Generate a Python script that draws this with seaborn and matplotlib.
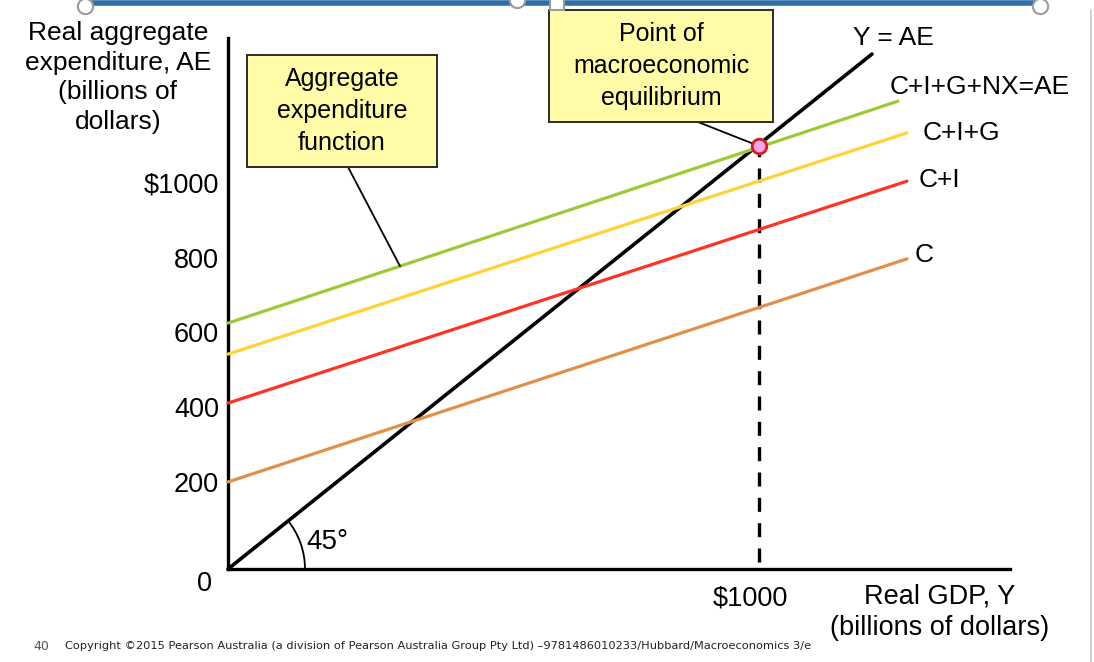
import numpy as np
import pandas as pd
import matplotlib
matplotlib.use("Agg")
import matplotlib.pyplot as plt
import matplotlib.patches as mpatches
import matplotlib.transforms as mtransforms
from matplotlib.lines import Line2D
import seaborn as sns

# ---------------- data (billions of dollars) ----------------
series_names = ["C+I+G+NX=AE", "C+I+G", "C+I", "C"]
series_colors = ["#9BCB34", "#FFD236", "#FF3224", "#E0904A"]
intercept_ae = [625, 542, 411, 200]        # AE at Y = 0
end_gdp = [1262, 1279, 1279, 1279]         # Y at right end of each line
end_ae = [1219, 1134, 1005, 797]           # AE at right end of each line

yae_gdp = [0, 1213]                        # 45-degree line Y = AE
yae_ae = [-33, 1345]

eq_gdp = 1000                              # macroeconomic equilibrium
eq_ae = 1099

y_ticks = [200, 400, 600, 800, 1000]
y_tick_labels = ["200", "400", "600", "800", "$1000"]
x_ticks = [1000]
x_tick_labels = ["$1000"]

xlim = (0, 1473)
ylim = (-33, 1388)

# ---------------- style ----------------
sns.set_theme(style="white")
plt.rcParams["font.family"] = ["Liberation Sans", "DejaVu Sans"]
plt.rcParams["text.color"] = "black"
plt.rcParams["axes.labelcolor"] = "black"
plt.rcParams["xtick.color"] = "black"
plt.rcParams["ytick.color"] = "black"

W, H = 1094, 662
fig = plt.figure(figsize=(W / 100, H / 100), dpi=100)
fig.patch.set_facecolor("white")

# axes placed in pixel layout: origin at (228,569), x-end 1010, top 38
ax = fig.add_axes([228 / W, (H - 569) / H, 782 / W, 531 / H])
ax.set_xlim(*xlim)
ax.set_ylim(*ylim)
ax.set_facecolor("white")

# 45-degree line
sns.lineplot(x=yae_gdp, y=yae_ae, ax=ax, color="black", lw=2.6, sort=False,
             estimator=None, legend=False, clip_on=False, zorder=3)

# aggregate expenditure lines
for name, col, b, xe, ye in zip(series_names, series_colors, intercept_ae, end_gdp, end_ae):
    sns.lineplot(x=[0, xe], y=[b, ye], ax=ax, color=col, lw=2.3, sort=False,
                 estimator=None, legend=False, clip_on=False, zorder=4)

# dashed drop line
drop = pd.DataFrame({"gdp": [eq_gdp, eq_gdp], "ae": [ylim[0] + 18, eq_ae]})
sns.lineplot(data=drop, x="gdp", y="ae", ax=ax, color="black", lw=2.4, sort=False,
             estimator=None, legend=False, zorder=2, dashes=False)
ax.lines[-1].set_dashes((4.2, 3.4))

# equilibrium point
ax.plot([eq_gdp], [eq_ae], marker="o", ms=10.5, mfc="#F7A3EC", mec="#CC1F1F",
        mew=2.0, ls="none", zorder=6, clip_on=False)

# ---------------- axes ----------------
for s in ["top", "right"]:
    ax.spines[s].set_visible(False)
for s in ["left", "bottom"]:
    ax.spines[s].set_color("black")
    ax.spines[s].set_linewidth(2.4)
ax.set_yticks(y_ticks)
ax.set_yticklabels(y_tick_labels)
ax.set_xticks(x_ticks)
ax.set_xticklabels(x_tick_labels)
ax.tick_params(axis="both", length=0, labelsize=19.5, colors="black")
ax.tick_params(axis="y", pad=6.5)
ax.tick_params(axis="x", pad=12)
ax.set_xlabel("")
ax.set_ylabel("")
ax.grid(False)
shift = mtransforms.ScaledTranslation(-8 / 100, 0, fig.dpi_scale_trans)
for lbl in ax.get_xticklabels():
    lbl.set_transform(lbl.get_transform() + shift)

# origin label
ax.annotate("0", xy=(0, ylim[0]), xytext=(-23, -15), textcoords="offset pixels",
            ha="center", va="center", fontsize=19.5, annotation_clip=False)

# axis titles
ax.text(-0.1407, 0.9256, "Real aggregate\nexpenditure, AE\n(billions of\ndollars)",
        transform=ax.transAxes, ha="center", va="center", multialignment="center",
        fontsize=19, linespacing=1.3)
ax.text(0.9105, -0.081, "Real GDP, Y\n(billions of dollars)",
        transform=ax.transAxes, ha="center", va="center", multialignment="center",
        fontsize=19.5, linespacing=1.3)

# line labels
label_offsets = [(-8, 14), (16, 0), (12, 1), (8, 4)]
for name, xe, ye, off in zip(series_names, end_gdp, end_ae, label_offsets):
    ax.annotate(name, xy=(xe, ye), xytext=off, textcoords="offset pixels",
                ha="left", va="center", fontsize=19, annotation_clip=False)
ax.annotate("Y = AE", xy=(yae_gdp[1], yae_ae[1]), xytext=(-19, 16),
            textcoords="offset pixels", ha="left", va="center", fontsize=19,
            annotation_clip=False)

# 45 degree arc
fig.canvas.draw()
p0 = ax.transData.transform((yae_gdp[0], yae_ae[0]))
p1 = ax.transData.transform((yae_gdp[1], yae_ae[1]))
ang = np.degrees(np.arctan2(p1[1] - p0[1], p1[0] - p0[0]))
arc_tr = fig.dpi_scale_trans + mtransforms.ScaledTranslation(yae_gdp[0], yae_ae[0], ax.transData)
arc = mpatches.Arc((0, 0), 1.54, 1.54, theta1=0, theta2=ang, transform=arc_tr,
                   color="black", lw=1.3, clip_on=False, zorder=5)
ax.add_patch(arc)
ax.annotate("45°", xy=(yae_gdp[0], yae_ae[0]), xytext=(78, 27), textcoords="offset pixels",
            ha="left", va="center", fontsize=20, annotation_clip=False)

# ---------------- callout boxes ----------------
box_fc = "#FFFBA6"
def px2ax(px, py):
    return ((px - 228) / 782, (569 - py) / 531)

b1x0, b1y0 = px2ax(247, 167)
b1x1, b1y1 = px2ax(437, 55)
ax.add_patch(mpatches.Rectangle((b1x0, b1y0), b1x1 - b1x0, b1y1 - b1y0, transform=ax.transAxes,
                                fc=box_fc, ec="#2b2b2b", lw=1.4, clip_on=False, zorder=7))
ax.text((b1x0 + b1x1) / 2, (b1y0 + b1y1) / 2, "Aggregate\nexpenditure\nfunction",
        transform=ax.transAxes, ha="center", va="center", multialignment="center",
        fontsize=18, linespacing=1.4, zorder=8)
lead_x = 324
lead_y = intercept_ae[0] + (end_ae[0] - intercept_ae[0]) / end_gdp[0] * lead_x
ax.annotate("", xy=(lead_x, lead_y), xytext=px2ax(348, 167), textcoords="axes fraction",
            arrowprops=dict(arrowstyle="-", lw=1.3, color="black", shrinkA=0, shrinkB=0),
            annotation_clip=False, zorder=5)

b2x0, b2y0 = px2ax(549, 122)
b2x1, b2y1 = px2ax(773, 10)
ax.add_patch(mpatches.Rectangle((b2x0, b2y0), b2x1 - b2x0, b2y1 - b2y0, transform=ax.transAxes,
                                fc=box_fc, ec="#2b2b2b", lw=1.4, clip_on=False, zorder=7))
ax.text((b2x0 + b2x1) / 2, (b2y0 + b2y1) / 2, "Point of\nmacroeconomic\nequilibrium",
        transform=ax.transAxes, ha="center", va="center", multialignment="center",
        fontsize=18, linespacing=1.4, zorder=8)
ax.annotate("", xy=(eq_gdp, eq_ae), xytext=px2ax(698, 122), textcoords="axes fraction",
            arrowprops=dict(arrowstyle="-", lw=1.3, color="black", shrinkA=0, shrinkB=5.5),
            annotation_clip=False, zorder=5)

# ---------------- slide decorations ----------------
fig.add_artist(Line2D([85 / W, 1040 / W], [(H - 3) / H, (H - 3) / H], color="#2F6FA8",
                      lw=4, transform=fig.transFigure))
for hx, hy in [(85, 6), (517, 0), (1040, 6)]:
    fig.add_artist(Line2D([hx / W], [(H - hy) / H], marker="o", ms=11, mfc="white",
                          mec="#9a9a9a", mew=1.5, transform=fig.transFigure))
fig.add_artist(Line2D([557 / W], [(H - 3) / H], marker="s", ms=10, mfc="white",
                      mec="#9a9a9a", mew=1.5, transform=fig.transFigure))
fig.add_artist(Line2D([1091 / W, 1091 / W], [0, (H - 10) / H], color="#c8c8c8",
                      lw=1.2, transform=fig.transFigure))

fig.text(33 / W, (H - 646) / H, "40", fontsize=9, color="#555555",
         family=["DejaVu Sans"], va="center", ha="left")
fig.text(65 / W, (H - 646) / H,
         "Copyright ©2015 Pearson Australia (a division of Pearson Australia Group Pty Ltd) "
         "–9781486010233/Hubbard/Macroeconomics 3/e",
         fontsize=8.2, color="#222222", family=["DejaVu Sans"], va="center", ha="left")

fig.savefig("out.png", dpi=100)
